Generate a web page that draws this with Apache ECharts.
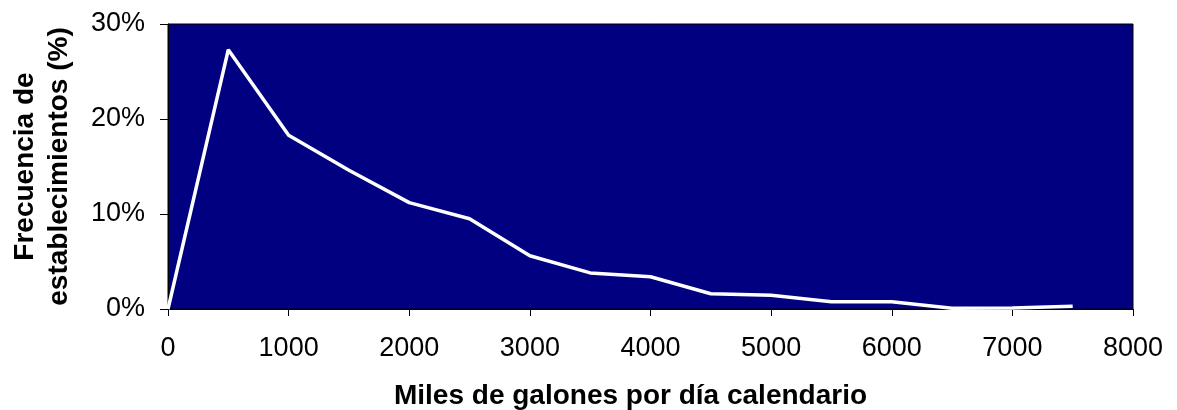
<!DOCTYPE html>
<html><head><meta charset="utf-8">
<script src="https://cdn.jsdelivr.net/npm/echarts@6/dist/echarts.min.js"></script>
<style>html,body{margin:0;padding:0;background:#fff}#c{width:1177px;height:410px}</style>
</head><body><div id="c"></div>
<script>
const xValues = [0, 500, 1000, 1500, 2000, 2500, 3000, 3500, 4000, 4500, 5000, 5500, 6000, 6500, 7000, 7500];
const freqPct = [0, 27.3, 18.3, 14.6, 11.2, 9.5, 5.6, 3.8, 3.4, 1.6, 1.45, 0.77, 0.77, 0.08, 0.1, 0.3];
const xTitle = 'Miles de galones por día calendario';
const yTitle = 'Frecuencia de\nestablecimientos (%)';

const chart = echarts.init(document.getElementById('c'));
const font = 'Liberation Sans, Arial, sans-serif';
chart.setOption({
  animation: false,
  grid: {left: 168, right: 44, top: 24, bottom: 101, outerBoundsMode: 'none', containLabel: false,
         show: true, backgroundColor: '#000080', borderColor: '#000', borderWidth: 1},
  xAxis: {
    type: 'value', min: 0, max: 8000, interval: 1000,
    name: xTitle, nameLocation: 'middle', nameGap: 73,
    nameTextStyle: {fontFamily: font, fontSize: 28, fontWeight: 'bold', color: '#000', lineHeight: 28, padding: [0, 40, 0, 0]},
    axisLine: {show: true, lineStyle: {color: '#000', width: 1}},
    axisTick: {show: true, length: 7, lineStyle: {color: '#000'}},
    axisLabel: {fontFamily: font, fontSize: 27, color: '#000', margin: 26, formatter: v => String(v)},
    splitLine: {show: false}
  },
  yAxis: {
    type: 'value', min: 0, max: 30, interval: 10,
    name: yTitle, nameLocation: 'middle', nameGap: 92,
    nameTextStyle: {fontFamily: font, fontSize: 28, fontWeight: 'bold', color: '#000', lineHeight: 34},
    axisLine: {show: true, lineStyle: {color: '#000', width: 1}},
    axisTick: {show: true, length: 8, lineStyle: {color: '#000'}},
    axisLabel: {fontFamily: font, fontSize: 27, color: '#000', margin: 23, formatter: v => v + '%'},
    splitLine: {show: false}
  },
  series: [{
    type: 'line',
    data: xValues.map((x, i) => [x, freqPct[i]]),
    showSymbol: false,
    lineStyle: {color: '#fff', width: 3.5},
    itemStyle: {color: '#fff'}
  }]
});
</script></body></html>
